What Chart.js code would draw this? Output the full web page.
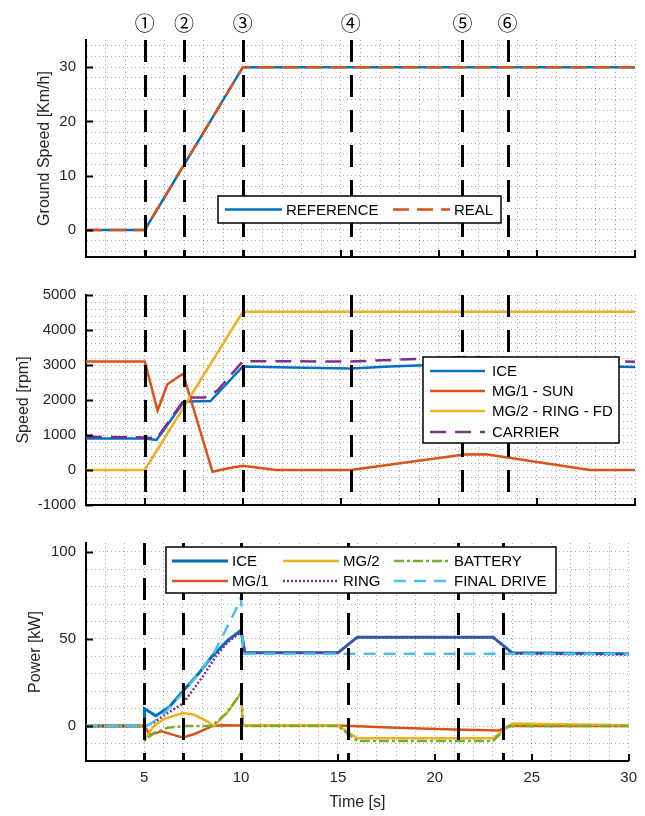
<!DOCTYPE html>
<html>
<head>
<meta charset="utf-8">
<script src="https://cdn.jsdelivr.net/npm/chart.js@4.4.0/dist/chart.umd.min.js"></script>
<style>
  html, body { margin: 0; padding: 0; background: #fff; }
  #wrap { position: relative; width: 645px; height: 816px; }
  .panel { position: absolute; left: 0; width: 645px; }
</style>
</head>
<body>
<div id="wrap">
  <div class="panel" style="top:0;height:276px"><canvas id="chartSpeed"></canvas></div>
  <div class="panel" style="top:276px;height:248px"><canvas id="chartRpm"></canvas></div>
  <div class="panel" style="top:524px;height:292px"><canvas id="chartPower"></canvas></div>
</div>
<script>
// ============================================
// Ground speed / shaft speed / power - phases 1..6
// ============================================

const timeMarks = [5, 7, 10, 15.5, 21.2, 23.5];
const markLabels = ['①', '②', '③', '④', '⑤', '⑥'];

// --- ground speed [km/h]
const gsTime = [2, 5, 10, 30];
const gsReference = [0, 0, 30, 30];
const gsReal = [0, 0, 30, 30];

// --- speeds [rpm]
const iceRpmT = [2, 5, 5.6, 7, 8.35, 10, 12.5, 15.5, 17.5, 20, 25, 30];
const iceRpm = [900, 900, 860, 1960, 1970, 2960, 2930, 2900, 2960, 3010, 2990, 2940];
const sunRpmT = [2, 5, 5.65, 6.15, 6.95, 8.45, 9.2, 10, 11.7, 15.5, 21.3, 22.4, 27.7, 30];
const sunRpm = [3100, 3100, 1700, 2450, 2750, -50, 40, 120, 0, 0, 440, 450, 0, 0];
const ringRpmT = [2, 5, 10, 30];
const ringRpm = [0, 0, 4520, 4520];
const carrierRpmT = [2, 5, 5.6, 7, 7.25, 8.05, 8.7, 10, 15.5, 21.5, 23.5, 30];
const carrierRpm = [950, 930, 900, 2000, 2070, 2070, 2270, 3110, 3100, 3230, 3200, 3090];

// --- power [kW]
const iceKwT = [2, 5, 5.02, 5.6, 6.3, 7, 7.8, 8.5, 9.3, 10, 10.2, 15, 16, 23, 24, 30];
const iceKw = [0, 0, 10, 6, 11, 20, 30, 40, 49, 55, 42, 42, 51, 51, 42, 41.5];
const mg1KwT = [2, 5, 5.3, 5.9, 6.5, 7, 7.6, 8.5, 9, 10, 15, 18, 21, 23.3, 23.9, 30];
const mg1Kw = [0, 0, -5, -3, -5, -6.5, -4.5, 0, 0.5, 0.3, 0.3, -1, -2, -2.5, 0, 0];
const mg2KwT = [2, 5, 5.05, 5.5, 6, 7, 7.6, 8.2, 8.6, 9.3, 10, 10.1, 15, 16, 23, 24, 30];
const mg2Kw = [0, 0, -7, 0, 4, 7.5, 6.5, 3, 0, 8, 19, 0.5, 0.5, -7, -7, 1.5, 0.5];
const ringKwT = [2, 5, 5.5, 6, 7, 8, 8.7, 9.3, 10, 10.2, 15, 16, 23, 24, 30];
const ringKw = [0, 0, 2, 6, 13, 28, 40, 48, 54, 42, 42, 51, 51, 41.5, 41];
const batteryKwT = [2, 5, 5.05, 5.5, 6.2, 7, 8.5, 9.3, 10, 10.1, 15, 16, 23, 23.8, 30];
const batteryKw = [0, 0, -8, -4, -1, 0, 0, 8, 19, 0, 0, -8.5, -8.5, 0, 0];
const finalDriveKwT = [2, 5, 5.3, 6, 7, 8, 8.6, 9.2, 9.7, 10, 10.1, 30];
const finalDriveKw = [0, 0, 1, 7, 19, 33, 42, 55, 66, 74, 41.5, 41.5];

const C_BLUE = '#0072BD', C_ORANGE = '#D95319', C_YELLOW = '#EDB120';
const C_PURPLE = '#7E2F8E', C_GREEN = '#77AC30', C_CYAN = '#4DBEEE';
const FONT = '"Liberation Sans", Arial, sans-serif';

Chart.defaults.font.family = FONT;
Chart.defaults.font.size = 15;
Chart.defaults.color = '#262626';

function pts(t, v) {
  return t.map((x, i) => ({ x: x, y: v[i] }));
}

function stepTicks(min, max, step) {
  const out = [];
  for (let v = Math.ceil(min / step) * step; v <= max + 1e-9; v += step) {
    out.push({ value: Math.round(v * 1000) / 1000 });
  }
  return out;
}

function line(label, t, v, color, dash, width) {
  return {
    label: label,
    data: pts(t, v),
    borderColor: color,
    borderWidth: width || 2.5,
    borderDash: dash || [],
    pointRadius: 0,
    tension: 0,
    fill: false
  };
}

// dashed phase markers + inward ticks
const markerPlugin = {
  id: 'markers',
  afterDatasetsDraw(chart, args, opts) {
    const { ctx, chartArea, scales } = chart;
    ctx.save();
    ctx.strokeStyle = '#000';
    ctx.lineWidth = 2;
    ctx.setLineDash([]);
    scales.y.ticks.forEach(tk => {
      if (Math.abs(tk.value % opts.yMajor) > 1e-9) return;
      const y = Math.round(scales.y.getPixelForValue(tk.value)) + 0.5;
      ctx.beginPath();
      ctx.moveTo(chartArea.left, y);
      ctx.lineTo(chartArea.left + 7, y);
      ctx.stroke();
    });
    scales.x.ticks.forEach(tk => {
      if (tk.value % 5 !== 0) return;
      const x = Math.round(scales.x.getPixelForValue(tk.value));
      ctx.beginPath();
      ctx.moveTo(x, chartArea.bottom);
      ctx.lineTo(x, chartArea.bottom - 7);
      ctx.stroke();
    });

    ctx.lineWidth = 3;
    ctx.setLineDash([22, 13]);
    timeMarks.forEach(t => {
      const x = Math.round(scales.x.getPixelForValue(t)) + 0.5;
      ctx.beginPath();
      ctx.moveTo(x, chartArea.top);
      ctx.lineTo(x, chartArea.bottom);
      ctx.stroke();
    });

    if (opts.labels) {
      ctx.setLineDash([]);
      ctx.fillStyle = '#000';
      ctx.font = '20px "Noto Sans CJK JP", "DejaVu Sans", sans-serif';
      ctx.textAlign = 'center';
      ctx.textBaseline = 'middle';
      timeMarks.forEach((t, i) => {
        ctx.fillText(markLabels[i], scales.x.getPixelForValue(t), 23);
      });
    }
    ctx.restore();
  }
};

// boxed legend like the matlab one
const legendPlugin = {
  id: 'boxLegend',
  afterDraw(chart, args, opts) {
    const { ctx } = chart;
    const b = opts.box;
    ctx.save();
    ctx.setLineDash([]);
    ctx.fillStyle = '#fff';
    ctx.fillRect(b.x, b.y, b.w, b.h);
    ctx.strokeStyle = '#000';
    ctx.lineWidth = 1.5;
    ctx.strokeRect(b.x, b.y, b.w, b.h);
    ctx.font = '15px ' + FONT;
    ctx.textBaseline = 'middle';
    ctx.textAlign = 'left';
    opts.slots.forEach((s, i) => {
      const ds = chart.data.datasets[i];
      ctx.strokeStyle = ds.borderColor;
      ctx.lineWidth = ds.borderWidth;
      ctx.setLineDash(ds.borderDash || []);
      ctx.beginPath();
      ctx.moveTo(s.x, s.y);
      ctx.lineTo(s.x + opts.sample, s.y);
      ctx.stroke();
      ctx.fillStyle = '#000';
      ctx.fillText(ds.label, s.x + opts.sample + opts.gap, s.y + 1);
    });
    ctx.restore();
  }
};

function panelOptions(cfg) {
  return {
    responsive: true,
    maintainAspectRatio: false,
    animation: false,
    layout: { padding: { top: cfg.padTop, right: 10, left: 0, bottom: 0 } },
    plugins: {
      legend: { display: false },
      tooltip: { enabled: false },
      markers: { labels: !!cfg.markLabels, yMajor: cfg.yMajor },
      boxLegend: cfg.legend
    },
    scales: {
      x: {
        type: 'linear',
        min: 2,
        max: 30,
        afterBuildTicks: s => { s.ticks = stepTicks(2, 30, 1); },
        afterFit: s => { s.height = cfg.xHeight; },
        grid: { color: 'rgba(0,0,0,0.32)', lineWidth: 1, drawTicks: false },
        border: { color: '#000', width: 2, dash: [1, 3] },
        ticks: {
          display: !!cfg.showX,
          padding: 8,
          autoSkip: false,
          maxRotation: 0,
          callback: v => (v % 5 === 0 ? String(v) : '')
        },
        title: {
          display: !!cfg.showX,
          text: 'Time [s]',
          font: { size: 16 },
          padding: { top: 0, bottom: 4 }
        }
      },
      y: {
        min: cfg.yMin,
        max: cfg.yMax,
        afterBuildTicks: s => { s.ticks = stepTicks(cfg.yMin, cfg.yMax, cfg.yMinor); },
        afterFit: s => { s.width = 86; },
        grid: { color: 'rgba(0,0,0,0.32)', lineWidth: 1, drawTicks: false },
        border: { color: '#000', width: 2, dash: [1, 3] },
        ticks: {
          padding: 10,
          autoSkip: false,
          callback: v => (Math.abs(v % cfg.yMajor) < 1e-9 ? String(v) : '')
        },
        title: {
          display: true,
          text: cfg.yTitle,
          font: { size: 16 },
          padding: { top: cfg.yTitlePad, bottom: 0 }
        }
      }
    }
  };
}

function withOrder(list) {
  // later series drawn on top, like matlab
  list.forEach((d, i) => { d.order = -i; });
  return list;
}

new Chart(document.getElementById('chartSpeed'), {
  type: 'line',
  data: {
    datasets: withOrder([
      line('REFERENCE', gsTime, gsReference, C_BLUE),
      line('REAL', gsTime, gsReal, C_ORANGE, [16, 8])
    ])
  },
  options: panelOptions({
    padTop: 40, xHeight: 11, yMin: -5, yMax: 35, yMinor: 2, yMajor: 10,
    yTitle: 'Ground Speed [Km/h]', yTitlePad: 35, markLabels: true,
    legend: {
      box: { x: 218, y: 196, w: 283, h: 27 },
      slots: [{ x: 225, y: 209.5 }, { x: 393, y: 209.5 }],
      sample: 57, gap: 4
    }
  }),
  plugins: [markerPlugin, legendPlugin]
});

new Chart(document.getElementById('chartRpm'), {
  type: 'line',
  data: {
    datasets: withOrder([
      line('ICE', iceRpmT, iceRpm, C_BLUE),
      line('MG/1 - SUN', sunRpmT, sunRpm, C_ORANGE),
      line('MG/2 - RING - FD', ringRpmT, ringRpm, C_YELLOW),
      line('CARRIER', carrierRpmT, carrierRpm, C_PURPLE, [16, 9])
    ])
  },
  options: panelOptions({
    padTop: 12, xHeight: 12, yMin: -1000, yMax: 5000, yMinor: 200, yMajor: 1000,
    yTitle: 'Speed [rpm]', yTitlePad: 14,
    legend: {
      box: { x: 423, y: 81, w: 196, h: 86 },
      slots: [{ x: 430, y: 95 }, { x: 430, y: 115 }, { x: 430, y: 135 }, { x: 430, y: 156 }],
      sample: 55, gap: 7
    }
  }),
  plugins: [markerPlugin, legendPlugin]
});

new Chart(document.getElementById('chartPower'), {
  type: 'line',
  data: {
    datasets: withOrder([
      line('ICE', iceKwT, iceKw, C_BLUE, [], 3),
      line('MG/1', mg1KwT, mg1Kw, C_ORANGE),
      line('MG/2', mg2KwT, mg2Kw, C_YELLOW),
      line('RING', ringKwT, ringKw, C_PURPLE, [2, 2]),
      line('BATTERY', batteryKwT, batteryKw, C_GREEN, [10, 3, 3, 3]),
      line('FINAL DRIVE', finalDriveKwT, finalDriveKw, C_CYAN, [12, 8])
    ])
  },
  options: panelOptions({
    padTop: 12, xHeight: 55, yMin: -20, yMax: 105, yMinor: 10, yMajor: 50,
    yTitle: 'Power [kW]', yTitlePad: 26, showX: true,
    legend: {
      box: { x: 166, y: 23, w: 390, h: 46 },
      slots: [
        { x: 172, y: 37 }, { x: 172, y: 57 },
        { x: 283, y: 37 }, { x: 283, y: 57 },
        { x: 394, y: 37 }, { x: 394, y: 57 }
      ],
      sample: 56, gap: 4
    }
  }),
  plugins: [markerPlugin, legendPlugin]
});
</script>
</body>
</html>
